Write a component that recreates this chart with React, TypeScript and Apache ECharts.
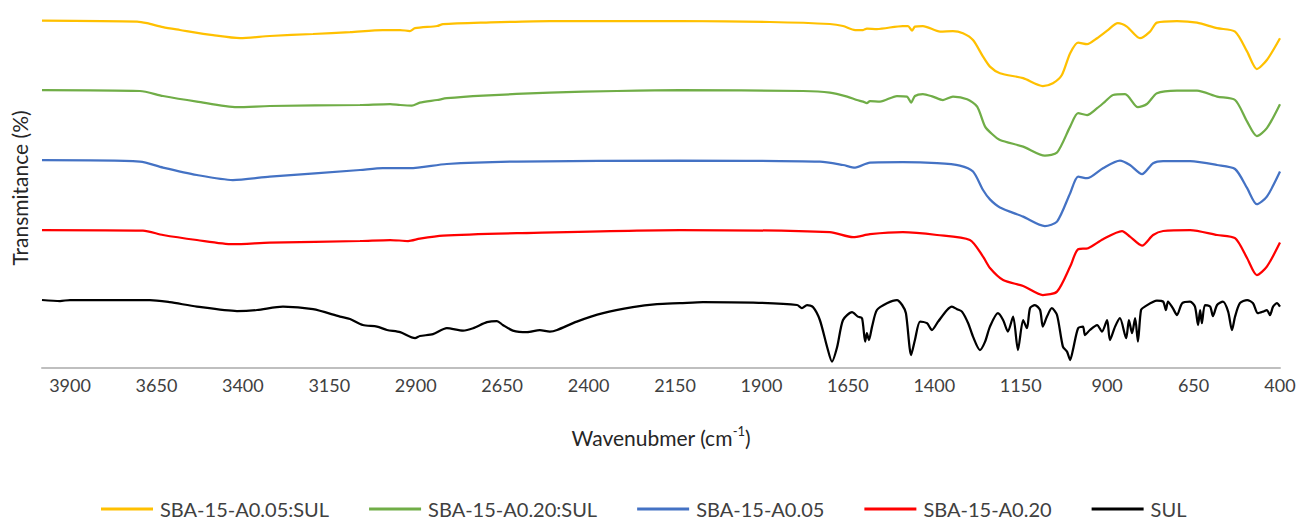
import React, { useEffect, useRef } from "react";
import * as echarts from "echarts";

// Wavenumber (cm-1) vs. transmittance (arbitrary offset units)
const seriesNames = ["SBA-15-A0.05:SUL", "SBA-15-A0.20:SUL", "SBA-15-A0.05", "SBA-15-A0.20", "SUL"];
const seriesColors = ["#FFC000", "#70AD47", "#4472C4", "#FF0000", "#000000"];

const sbaA005Sul: number[][] = [
  [3981, 173.7], [3706, 173.2], [3677, 172.4], [3631, 170.4], [3582, 169], [3486, 166.4], [3408, 164.9],
  [3322, 166], [3197, 167], [3090, 167.9], [2995, 169], [2945, 169], [2917, 168.5], [2902, 169.9],
  [2838, 171], [2821, 171.9], [2705, 172.7], [2512, 173.5], [2136, 173.5], [1875, 173], [1702, 172],
  [1664, 171], [1629, 169], [1606, 169], [1595, 169.7], [1566, 169.5], [1491, 171], [1476, 171],
  [1464, 168.7], [1456, 170.7], [1433, 171], [1383, 168.2], [1346, 168.5], [1317, 167.4], [1288, 164],
  [1259, 155.7], [1239, 150.7], [1210, 147.4], [1143, 144.9], [1086, 141], [1057, 142.4], [1031, 146.5],
  [1007, 157.4], [984, 162.7], [958, 161.9], [929, 164.9], [900, 168.7], [869, 172.4], [843, 170.7],
  [805, 164.9], [776, 168.2], [756, 172.7], [698, 173.5], [640, 172.7], [582, 169.9], [530, 168.2],
  [495, 158.2], [467, 149.5], [438, 154], [400, 164.9],
];

const sbaA020Sul: number[][] = [
  [3981, 139], [3698, 138.5], [3631, 136], [3533, 133.2], [3417, 130.4], [3322, 131], [3061, 131.5],
  [2974, 132], [2945, 131.5], [2911, 131.2], [2888, 132.7], [2838, 134], [2810, 134.9], [2705, 136.2],
  [2512, 137.7], [2318, 138.5], [2136, 138.9], [1780, 138.5], [1702, 137.7], [1652, 135.7], [1624, 134],
  [1606, 133.2], [1595, 132.4], [1586, 133.5], [1557, 133.2], [1508, 136], [1479, 135.7], [1467, 132.7],
  [1456, 136], [1433, 137], [1404, 135.7], [1375, 134], [1346, 135.7], [1305, 134.4], [1276, 130.7],
  [1253, 120.7], [1233, 117], [1210, 114], [1143, 110.7], [1080, 106.2], [1045, 107.7], [1007, 120.7],
  [984, 127.4], [958, 126.5], [929, 129.9], [906, 133.2], [883, 136.5], [848, 136.9], [811, 130.4],
  [785, 132], [756, 137.4], [698, 138.7], [640, 138.7], [582, 135.7], [530, 134], [495, 123.2],
  [467, 116], [438, 119.9], [400, 131.9],
];

const sbaA005: number[][] = [
  [3981, 103.9], [3698, 103.2], [3631, 100.2], [3533, 96.5], [3429, 94], [3322, 95.7], [3061, 99],
  [2995, 99.9], [2917, 99.9], [2810, 102], [2607, 103.2], [2136, 103.7], [1731, 103.2], [1664, 101.5],
  [1629, 100.2], [1586, 102.7], [1491, 102.9], [1392, 102.4], [1326, 101.2], [1288, 98.2], [1259, 89],
  [1239, 84.3], [1210, 80.3], [1143, 75.7], [1080, 71], [1045, 73.2], [1007, 87.4], [984, 95.7],
  [958, 94.9], [912, 99.9], [863, 103.7], [834, 101.5], [799, 96.9], [767, 102.4], [738, 103.5],
  [660, 103.4], [582, 101.5], [530, 99.5], [495, 89.9], [467, 81.9], [438, 85.7], [400, 98.2],
];

const sbaA020: number[][] = [
  [3981, 69], [3689, 68.7], [3631, 66.5], [3533, 64], [3429, 61.9], [3322, 62.7], [3061, 63.5],
  [2974, 64], [2922, 63.5], [2888, 64.7], [2821, 66.2], [2607, 67.4], [2136, 69], [1702, 67.9],
  [1635, 65.4], [1586, 66.9], [1491, 67.9], [1392, 66.5], [1297, 64], [1259, 55.7], [1239, 50],
  [1201, 44], [1143, 41], [1086, 36.5], [1045, 38.2], [1007, 50.7], [984, 59.4], [955, 59.9],
  [912, 64.4], [857, 68.5], [834, 65.7], [799, 61.2], [767, 66.5], [738, 68.5], [660, 69],
  [582, 66.5], [530, 64.9], [495, 54.9], [467, 46.5], [438, 50.7], [400, 62.7],
];

const sul: number[][] = [
  [3981, 34], [3929, 33.5], [3900, 34], [3669, 34], [3611, 32.9], [3533, 30.7], [3417, 28.5],
  [3359, 29], [3284, 30.7], [3197, 29.4], [3119, 25.7], [3090, 24.5], [3053, 21.5], [3012, 20.7],
  [2983, 19], [2945, 17.9], [2902, 14.9], [2888, 16], [2850, 16.9], [2810, 19.9], [2763, 18.7],
  [2734, 19.9], [2694, 22.9], [2665, 23.5], [2648, 21.5], [2619, 18.7], [2578, 17.9], [2541, 19],
  [2512, 18.2], [2491, 19], [2434, 23.2], [2358, 27.4], [2272, 30.4], [2202, 31.9], [2136, 32.4],
  [2069, 33], [1924, 32.7], [1797, 31.5], [1783, 29.9], [1768, 31.5], [1751, 30.5], [1731, 24],
  [1710, 10.5], [1696, 3.2], [1681, 10.5], [1664, 24], [1638, 27.9], [1621, 25.7], [1609, 24.9],
  [1600, 13.2], [1595, 17.4], [1589, 14], [1580, 20.7], [1566, 29], [1537, 32.4], [1508, 34],
  [1493, 31.5], [1482, 27.4], [1467, 6.5], [1456, 14], [1441, 23.2], [1421, 22.4], [1407, 19],
  [1389, 23.2], [1363, 29], [1349, 30.7], [1334, 29.4], [1320, 28.2], [1302, 22.4], [1288, 15.7],
  [1268, 9], [1253, 13.2], [1239, 20.7], [1216, 27.4], [1201, 24], [1187, 18.2], [1172, 25.7],
  [1158, 9], [1143, 24], [1132, 19.9], [1123, 29.9], [1109, 31.5], [1094, 29], [1086, 20.7],
  [1074, 25.7], [1060, 29.9], [1045, 26.5], [1028, 10.7], [1016, 8.2], [1007, 4], [999, 9],
  [984, 19.9], [970, 20.7], [964, 16.5], [950, 19], [929, 21.5], [915, 18.2], [900, 24], [892, 14],
  [877, 20.7], [863, 24.9], [845, 14.9], [837, 24], [828, 17.4], [819, 24.9], [811, 13.2], [802, 29],
  [791, 30.7], [756, 33.7], [738, 33.2], [730, 29], [724, 33.2], [710, 29.9], [698, 26.5], [683, 32.4],
  [660, 33.2], [646, 30.7], [637, 21.5], [631, 29], [626, 22.4], [617, 31.5], [602, 30.7], [594, 26],
  [582, 31.5], [565, 33.2], [550, 28.2], [539, 19], [530, 25.7], [516, 32.4], [495, 34], [478, 32.4],
  [464, 27.4], [449, 28.2], [438, 29], [429, 26.5], [420, 30.7], [409, 32.4], [400, 30.7],
];

const seriesData = [sbaA005Sul, sbaA020Sul, sbaA005, sbaA020, sul];

const FONT = "Lato, 'Open Sans', sans-serif";

export default function App() {
  const ref = useRef<HTMLDivElement>(null);

  useEffect(() => {
    document.body.style.margin = "0";
    if (!ref.current) return;
    const chart = echarts.init(ref.current, undefined, { renderer: "svg" });
    chart.setOption({
      animation: false,
      backgroundColor: "#ffffff",
      grid: { left: 42, right: 19, top: 8, bottom: 152, containLabel: false },
      xAxis: {
        type: "value",
        inverse: true,
        min: 400,
        max: 3981,
        interval: 250,
        axisLine: { show: true, lineStyle: { color: "#BFBFBF", width: 2 } },
        axisTick: { show: false },
        splitLine: { show: false },
        axisLabel: {
          showMaxLabel: false,
          margin: 8,
          fontSize: 18,
          fontFamily: FONT,
          color: "#404040",
          formatter: (v: number) => String(v),
        },
        name: "{t|Wavenubmer (cm}{s|-1}{t|)}",
        nameLocation: "middle",
        nameGap: 56,
        nameTextStyle: {
          rich: {
            t: { fontSize: 21, fontFamily: FONT, color: "#262626", lineHeight: 26 },
            s: { fontSize: 13, fontFamily: FONT, color: "#262626", verticalAlign: "top", lineHeight: 26 },
          },
        },
      },
      yAxis: {
        type: "value",
        min: 0,
        max: 180,
        axisLine: { show: false },
        axisTick: { show: false },
        axisLabel: { show: false },
        splitLine: { show: false },
        name: "Transmitance (%)",
        nameLocation: "middle",
        nameRotate: 90,
        nameGap: 12,
        nameTextStyle: { fontSize: 21, fontFamily: FONT, color: "#262626" },
      },
      legend: {
        data: seriesNames.map((name, i) => ({ name, icon: "rect", itemStyle: { color: seriesColors[i] } })),
        left: 101,
        top: 499,
        padding: 0,
        itemWidth: 52,
        itemHeight: 3,
        itemGap: 40,
        textStyle: { fontSize: 20, lineHeight: 20, fontFamily: FONT, color: "#404040", padding: [0, 0, 0, 2] },
      },
      series: seriesNames.map((name, i) => ({
        name,
        type: "line",
        data: seriesData[i],
        symbol: "none",
        smooth: 0.25,
        lineStyle: { color: seriesColors[i], width: 2.25 },
        itemStyle: { color: seriesColors[i] },
      })),
    });
    return () => chart.dispose();
  }, []);

  return <div ref={ref} style={{ width: 1299, height: 520 }} />;
}
